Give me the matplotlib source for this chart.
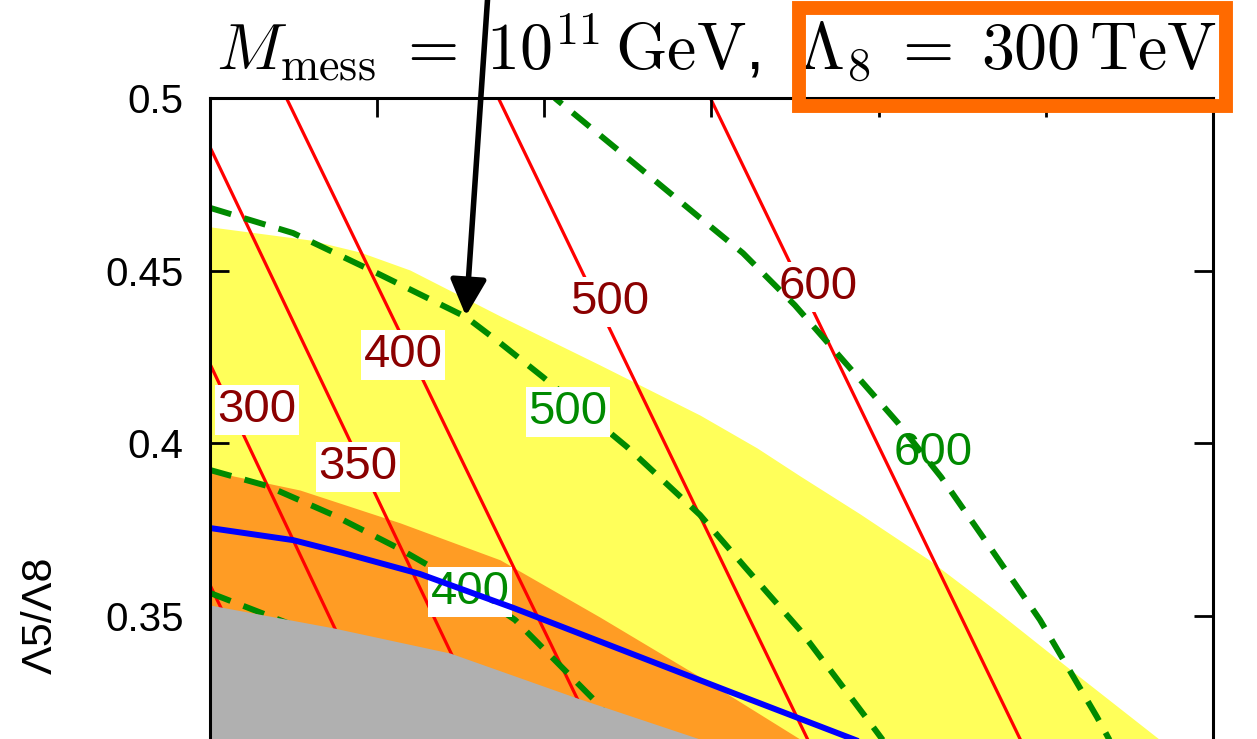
import matplotlib.pyplot as plt
from matplotlib.patches import Rectangle

plt.rcParams['mathtext.fontset'] = 'cm'
plt.rcParams['font.family'] = ['Liberation Sans', 'DejaVu Sans']

# shaded regions: upper edge of each band (band fills down to the axis bottom)
yellow_x = [0.200, 0.2598, 0.2897, 0.3196, 0.3735, 0.4333, 0.4931, 0.5272, 0.5529,
            0.5888, 0.6301, 0.6726, 0.7103, 0.7677, 0.808]
yellow_y = [0.4627, 0.4589, 0.4554, 0.4502, 0.4369, 0.4227, 0.4082, 0.3987, 0.3906,
            0.3796, 0.3663, 0.3507, 0.3362, 0.3144, 0.300]

orange_x = [0.200, 0.2538, 0.3137, 0.3735, 0.4333, 0.4931, 0.5529, 0.598]
orange_y = [0.3920, 0.3865, 0.3770, 0.3663, 0.3497, 0.3324, 0.3144, 0.300]

gray_x = [0.200, 0.2736, 0.3436, 0.4195, 0.4931, 0.5769]
gray_y = [0.3532, 0.3466, 0.3393, 0.3263, 0.3144, 0.300]

# blue curve
blue_x = [0.200, 0.2497, 0.2796, 0.3256, 0.3813, 0.4512, 0.5099, 0.5847, 0.6605]
blue_y = [0.3755, 0.3720, 0.3683, 0.3622, 0.3524, 0.3393, 0.3283, 0.3144, 0.300]

# green dashed contours
green_x = [
    [0.200, 0.2479, 0.3256],
    [0.200, 0.2341, 0.2736, 0.3137, 0.3561, 0.3825, 0.4315, 0.4572],
    [0.200, 0.2497, 0.2999, 0.3531, 0.3735, 0.3992, 0.4494, 0.4931, 0.5200, 0.5529, 0.5936, 0.6157],
    [0.3854, 0.4070, 0.4447, 0.4931, 0.5188, 0.5499, 0.6116, 0.6373, 0.6648, 0.6965, 0.7306, 0.7378, 0.7474],
]
green_y = [
    [0.3567, 0.3477, 0.3350],
    [0.3923, 0.3877, 0.3793, 0.3694, 0.3576, 0.3489, 0.3249, 0.3083],
    [0.4682, 0.4609, 0.4493, 0.4366, 0.4291, 0.4192, 0.3990, 0.3793, 0.3642, 0.3460, 0.3199, 0.3055],
    [0.5098, 0.4997, 0.4847, 0.4653, 0.4551, 0.4400, 0.4059, 0.3903, 0.3712, 0.3489, 0.3208, 0.3144, 0.3055],
]
green_labels = ['400', '500', '600']
green_lab_x = [0.3555, 0.4142, 0.6325]
green_lab_y = [0.3570, 0.4091, 0.3972]

# red solid contours
red_x = [
    [0.200, 0.2239],
    [0.200, 0.2808],
    [0.200, 0.3496],
    [0.2419, 0.4273],
    [0.3687, 0.5649],
    [0.4955, 0.6935],
]
red_y = [
    [0.3590, 0.3350],
    [0.4230, 0.3402],
    [0.4858, 0.3338],
    [0.5038, 0.3185],
    [0.5038, 0.3069],
    [0.5038, 0.3055],
]
red_labels = ['300', '350', '400', '500', '600']
red_lab_x = [0.2281, 0.2885, 0.3155, 0.4393, 0.5637]
red_lab_y = [0.4097, 0.3932, 0.4256, 0.4409, 0.4453]

ytick_vals = [0.35, 0.4, 0.45, 0.5]
ytick_text = ['0.35', '0.4', '0.45', '0.5']
xtick_vals = [0.3, 0.4, 0.5, 0.6, 0.7]

fig = plt.figure(figsize=(12.57, 7.39), dpi=100)
ax = fig.add_axes([0.16706, -0.06739, 0.79793, 0.93478])
ax.set_xlim(0.2, 0.8)
ax.set_ylim(0.30, 0.50)

ax.fill_between(yellow_x, yellow_y, 0.30, color='#ffff5a', lw=0, zorder=1)
ax.fill_between(orange_x, orange_y, 0.30, color='#ff9c24', lw=0, zorder=1.1)

for xs, ys in zip(red_x, red_y):
    ax.plot(xs, ys, color='#ff0000', lw=2.3, zorder=1.5)
for t, x, y in zip(red_labels, red_lab_x, red_lab_y):
    ax.text(x, y, t, color='#8b0000', fontsize=34, ha='center', va='center',
            family=['Liberation Sans Narrow', 'Liberation Sans'], zorder=1.6,
            bbox=dict(facecolor='white', edgecolor='none', pad=2))

for xs, ys in zip(green_x, green_y):
    ax.plot(xs, ys, color='#008a00', lw=4.3, ls=(0, (3.7, 2.3)), zorder=1.7)
for i, (t, x, y) in enumerate(zip(green_labels, green_lab_x, green_lab_y)):
    bb = dict(facecolor='white', edgecolor='none', pad=2) if i < 2 else None
    ax.text(x, y, t, color='#008a00', fontsize=34, ha='center', va='center',
            family=['Liberation Sans Narrow', 'Liberation Sans'], zorder=1.8, bbox=bb)

ax.fill_between(gray_x, gray_y, 0.30, color='#b0b0b0', lw=0, zorder=2)
ax.plot(blue_x, blue_y, color='#0000ff', lw=4.3, zorder=2.1)

ax.set_yticks(ytick_vals)
ax.set_yticklabels(ytick_text)
ax.set_xticks(xtick_vals)
ax.tick_params(direction='in', length=14, width=2, labelsize=29, pad=19,
               top=True, right=True, labelbottom=False)
for s in ax.spines.values():
    s.set_linewidth(2.2)

fig.text(41 / 1257, 1 - 615 / 739, 'Λ5/Λ8', rotation=90, fontsize=31,
         ha='center', va='center')

fig.text(716 / 1257, 1 - 71 / 739,
         r'$M_{\rm mess} \;=\; 10^{11}\,{\rm GeV}$, $\;\Lambda_8 \;=\; 300\,{\rm TeV}$',
         fontsize=47.5, ha='center', va='baseline')

fig.patches.append(Rectangle((799 / 1257, 1 - 106 / 739), 427 / 1257, 98 / 739,
                             transform=fig.transFigure, fill=False,
                             edgecolor='#ff6a00', lw=10, zorder=5))

ax.annotate('', xy=(0.3531, 0.4369), xycoords='data',
            xytext=(488 / 1257, 1.01), textcoords='figure fraction',
            arrowprops=dict(arrowstyle='-|>', color='black', lw=4,
                            mutation_scale=55, shrinkA=0, shrinkB=0),
            annotation_clip=False, zorder=6)

fig.savefig('out.png', dpi=100)
